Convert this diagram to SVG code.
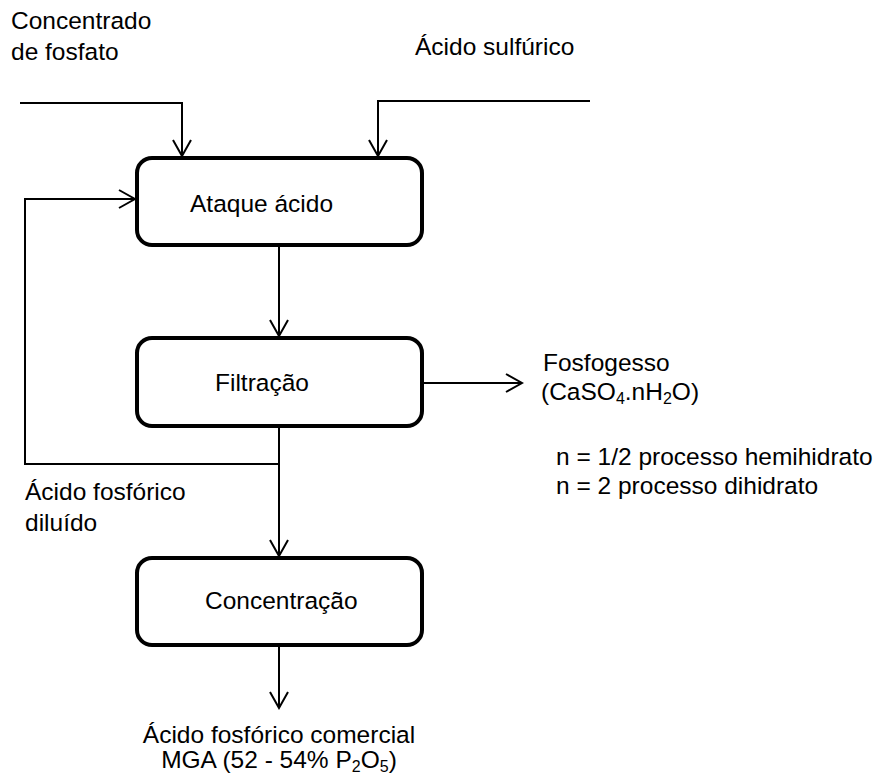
<svg xmlns="http://www.w3.org/2000/svg" width="883" height="776" viewBox="0 0 883 776">
<style>
text{font-family:"Liberation Sans",Arial,sans-serif;font-size:24.5px;fill:#000}
.sub{font-size:16px}
.box{fill:#fff;stroke:#000;stroke-width:4}
.ln{fill:none;stroke:#000;stroke-width:2}
</style>
<defs>
<marker id="arr" markerUnits="userSpaceOnUse" markerWidth="20" markerHeight="22" viewBox="-18 -11 20 22" refX="0" refY="0" orient="auto">
<path d="M -16 -9 L 0 0 L -16 9" fill="none" stroke="#000" stroke-width="2"/>
</marker>
</defs>
<rect width="883" height="776" fill="#fff"/>
<g id="connectors">
<path class="ln" d="M 20 103 H 182 V 156" marker-end="url(#arr)"/>
<path class="ln" d="M 590 101 H 378 V 156" marker-end="url(#arr)"/>
<path class="ln" d="M 279 464 H 25 V 199 H 135" marker-end="url(#arr)"/>
<path class="ln" d="M 279 245 V 336" marker-end="url(#arr)"/>
<path class="ln" d="M 422 383 H 522" marker-end="url(#arr)"/>
<path class="ln" d="M 279 426 V 556" marker-end="url(#arr)"/>
<path class="ln" d="M 279 645 V 708" marker-end="url(#arr)"/>
</g>
<g id="ataque">
<rect class="box" x="137" y="158" width="285" height="87" rx="15"/>
<text x="190" y="212">Ataque ácido</text>
</g>
<g id="filtracao">
<rect class="box" x="137" y="338" width="285" height="88" rx="15"/>
<text x="215" y="391">Filtração</text>
</g>
<g id="concentracao">
<rect class="box" x="137" y="558" width="285" height="87" rx="15"/>
<text x="205" y="609">Concentração</text>
</g>
<g id="labels">
<text x="11" y="29">Concentrado</text>
<text x="11" y="60">de fosfato</text>
<text x="415" y="55">Ácido sulfúrico</text>
<text x="543" y="371">Fosfogesso</text>
<text x="541" y="400">(CaSO<tspan class="sub" dy="4">4</tspan><tspan dy="-4">.nH</tspan><tspan class="sub" dy="4">2</tspan><tspan dy="-4">O)</tspan></text>
<text x="556" y="465">n = 1/2 processo hemihidrato</text>
<text x="556" y="494">n = 2 processo dihidrato</text>
<text x="25" y="500">Ácido fosfórico</text>
<text x="25" y="531">diluído</text>
<text x="279" y="743" text-anchor="middle">Ácido fosfórico comercial</text>
<text x="279" y="768" text-anchor="middle">MGA (52 - 54% P<tspan class="sub" dy="4">2</tspan><tspan dy="-4">O</tspan><tspan class="sub" dy="4">5</tspan><tspan dy="-4">)</tspan></text>
</g>
</svg>
